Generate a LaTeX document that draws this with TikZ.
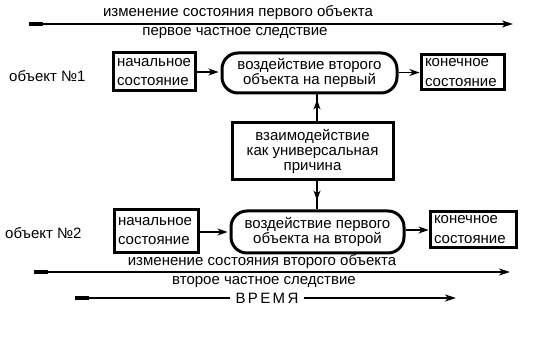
\documentclass[tikz,border=0pt]{standalone}
\usepackage{fontspec}
\setmainfont{Liberation Sans}
\usetikzlibrary{arrows.meta,calc}
\begin{document}
\begin{tikzpicture}[x=1pt,y=-1pt,
  font=\fontsize{15}{17}\selectfont,
  conn/.style={line width=1.1pt},
  head/.style={-{Stealth[length=10pt,width=7pt,inset=3pt]}},
  longarrow/.style={line width=1.1pt,{Rectangle[length=14pt,width=4.5pt]}-{Stealth[length=11pt,width=7pt,inset=3pt]}},
  sqbox/.style={draw,line width=3pt,inner xsep=4pt,inner ysep=0pt,align=left},
  rbox/.style={draw,line width=3pt,rounded corners=16pt,inner sep=0pt,align=center,
     font=\fontsize{15}{12}\selectfont},
  lbl/.style={inner sep=0pt}
]
\useasboundingbox (0,0) rectangle (538,352);

% top arrow
\coordinate (ta) at (29,24);
\coordinate (tb) at (513,24);
\draw[longarrow] (ta) -- (tb);
\node[lbl] (t1) at (238,13) {изменение состояния первого объекта};
\node[lbl] (t2) at (235,33) {первое частное следствие};

% row 1
\node[lbl,anchor=west] (o1) at (9,76) {объект №1};
\node[sqbox,minimum width=82pt,minimum height=38pt,text width=74pt,
  font=\fontsize{15}{19}\selectfont] (n1) at (154,72) {начальное\\состояние};
\node[rbox,minimum width=175pt,minimum height=40pt] (r1) at (309.5,73)
  {воздействие второго\\объекта на первый\vphantom{g}};
\node[sqbox,minimum width=83pt,minimum height=35pt,text width=75pt,
  font=\fontsize{15}{20}\selectfont] (k1) at (462.5,72.5) {конечное\\состояние};

% middle
\node[draw,line width=3pt,minimum width=161pt,minimum height=57pt,inner sep=0pt,
  align=center,font=\fontsize{15}{15}\selectfont] (m) at (312.5,151.5)
  {взаимодействие\\как универсальная\\причина};

% row 2
\node[lbl,anchor=west] (o2) at (5,233) {объект №2};
\node[sqbox,minimum width=84pt,minimum height=43pt,text width=76pt,
  font=\fontsize{15}{19}\selectfont] (n2) at (156,231.5) {начальное\\состояние};
\node[rbox,minimum width=173pt,minimum height=42pt] (r2) at (317.5,232)
  {воздействие первого\\объекта на второй\vphantom{g}};
\node[sqbox,minimum width=86pt,minimum height=36pt,text width=78pt,
  font=\fontsize{15}{20}\selectfont] (k2) at (473,230) {конечное\\состояние};

% horizontal connectors
\draw[conn,head,shorten >=2pt] (n1.east) -- (n1.east -| r1.west);
\draw[conn,head] (r1.east |- k1.west) -- (k1.west);
\draw[conn,head,shorten >=2pt] (n2.east |- r2.west) -- (r2.west);
\draw[conn,head] (r2.east |- k2.west) -- (k2.west);

% vertical connectors
\coordinate (vx) at (317,0);
\draw[conn] (m.north -| vx) -- (r1.south -| vx);
\draw[conn,head,shorten >=5pt] (m.north -| vx) -- (r1.south -| vx);
\draw[conn] (m.south -| vx) -- (r2.north -| vx);
\draw[conn,head,shorten >=9pt] (m.south -| vx) -- (r2.north -| vx);

% bottom arrow
\coordinate (ba) at (34,272);
\coordinate (bb) at (510,272);
\draw[longarrow] (ba) -- (bb);
\node[lbl] (b1) at (262,262) {изменение состояния второго объекта};
\node[lbl] (b2) at (264,282) {второе частное следствие};

% time arrow
\coordinate (va) at (75,298);
\coordinate (vb) at (456,298);
\node[inner xsep=5pt,inner ysep=0pt,font=\fontsize{15}{17}\selectfont\addfontfeature{LetterSpace=16}] (time) at (267,298) {ВРЕМЯ};
\draw[line width=1.1pt,{Rectangle[length=14pt,width=4.5pt]}-] (va) -- (time.west);
\draw[line width=1.1pt,-{Stealth[length=11pt,width=7pt,inset=3pt]}] (time.east) -- (vb);
\end{tikzpicture}
\end{document}
